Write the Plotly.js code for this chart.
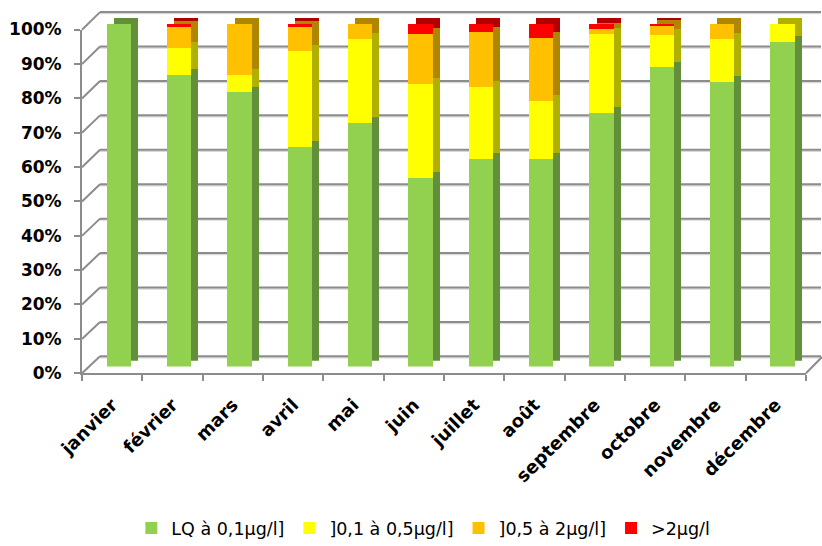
<!DOCTYPE html>
<html>
<head>
<meta charset="utf-8">
<script src="https://cdn.plot.ly/plotly-3.0.1.min.js"></script>
<style>
  html, body { margin: 0; padding: 0; background: #ffffff; }
  #chart { width: 822px; height: 546px; }
</style>
</head>
<body>
<div id="chart"></div>
<script>
// ---- data (percent of samples per class) ----
var months = ['janvier', 'février', 'mars', 'avril', 'mai', 'juin', 'juillet', 'août', 'septembre', 'octobre', 'novembre', 'décembre'];
var seriesNames = ['LQ à 0,1µg/l]', ']0,1 à 0,5µg/l]', ']0,5 à 2µg/l]', '>2µg/l'];
var lqTo01   = [100, 85, 80, 64, 71, 55, 60.5, 60.5, 74, 87.3, 83, 94.7];
var from01To05 = [0, 8, 5, 28, 24.5, 27.5, 21, 17, 23, 9.6, 12.5, 5.3];
var from05To2  = [0, 6, 15, 7, 4.5, 14.5, 16, 18.5, 1.5, 2.4, 4.5, 0];
var above2     = [0, 1, 0, 1, 0, 3, 2.5, 4, 1.5, 0.7, 0, 0];
var yTicks = [0, 10, 20, 30, 40, 50, 60, 70, 80, 90, 100];
var yTickText = yTicks.map(function (t) { return t + '%'; });

// ---- styles ----
var frontColors = ['#92D050', '#FFFF00', '#FFC000', '#FF0000'];
var sideColors  = ['#62903A', '#B0B000', '#B08600', '#B00000'];
var values = [lqTo01, from01To05, from05To2, above2];

var W = 822, H = 546;
function fx(px) { return px / W; }
function fy(py) { return 1 - py / H; }

var gridCol = '#8c8c8c';

var traces = [];
// carrier for the main (labelled) axes
traces.push({ type: 'scatter', x: [months[0]], y: [null], xaxis: 'x', yaxis: 'y',
  mode: 'markers', showlegend: false, hoverinfo: 'skip' });
// side/top faces (drawn behind, shifted up/right)
values.forEach(function (v, i) {
  traces.push({
    type: 'bar', x: months, y: v, name: seriesNames[i],
    xaxis: 'x', yaxis: 'y2', offset: 0.028, width: 0.4,
    marker: { color: sideColors[i], line: { width: 0 } },
    showlegend: false, hoverinfo: 'skip'
  });
});
// front faces
values.forEach(function (v, i) {
  traces.push({
    type: 'bar', x: months, y: v, name: seriesNames[i],
    xaxis: 'x', yaxis: 'y3', offset: -0.09, width: 0.4,
    marker: { color: frontColors[i], line: { width: 0 } }
  });
});

// back wall gridlines + side-wall connectors (3D frame)
var shapes = [];
yTicks.forEach(function (t) {
  var yFront = 379.5 - t * 3.492;
  var yBack = 362.3 - t * 3.5;
  shapes.push({ type: 'line', xref: 'paper', yref: 'paper', layer: 'below',
    x0: fx(100), y0: fy(yBack + 1.5), x1: fx(821), y1: fy(yBack + 1.5),
    line: { color: '#d9d9d9', width: 1.5 } });
  shapes.push({ type: 'line', xref: 'paper', yref: 'paper', layer: 'below',
    x0: fx(100), y0: fy(yBack), x1: fx(821), y1: fy(yBack),
    line: { color: gridCol, width: 2 } });
  shapes.push({ type: 'line', xref: 'paper', yref: 'paper', layer: 'below',
    x0: fx(82), y0: fy(yFront), x1: fx(100), y1: fy(yBack),
    line: { color: gridCol, width: 2 } });
});
shapes.push({ type: 'line', xref: 'paper', yref: 'paper', layer: 'below',
  x0: fx(806), y0: fy(379.5), x1: fx(822), y1: fy(363),
  line: { color: gridCol, width: 2 } });

var layout = {
  width: W, height: H,
  margin: { l: 0, r: 0, t: 0, b: 0 },
  paper_bgcolor: '#ffffff', plot_bgcolor: 'rgba(0,0,0,0)',
  barmode: 'stack',
  showlegend: true,
  font: { family: 'DejaVu Sans', color: '#000000' },
  xaxis: {
    domain: [fx(82), fx(806)], type: 'category', range: [-0.5, 11.5],
    tickson: 'boundaries', ticks: 'outside', ticklen: 6, tickwidth: 2, tickcolor: gridCol,
    showline: true, linecolor: gridCol, linewidth: 2, showgrid: false, zeroline: false,
    tickangle: -45, tickfont: { family: 'DejaVu Sans', size: 18, color: '#000000', weight: 'bold' },
    ticklabelstandoff: 12,
    anchor: 'y', automargin: false, fixedrange: true
  },
  yaxis: {
    domain: [fy(379.5), fy(30)], range: [0, 100], tickmode: 'array', tickvals: yTicks, ticktext: yTickText,
    ticks: 'outside', ticklen: 6, tickwidth: 2, tickcolor: gridCol,
    showline: true, linecolor: gridCol, linewidth: 2, showgrid: false, zeroline: false,
    tickfont: { family: 'DejaVu Sans', size: 17, color: '#000000', weight: 'bold' },
    ticklabelstandoff: 9,
    anchor: 'x', automargin: false, fixedrange: true
  },
  yaxis2: {
    domain: [fy(366.7), fy(18.3)], range: [0, 100], anchor: 'x', visible: false, fixedrange: true
  },
  yaxis3: {
    domain: [fy(372.7), fy(24.3)], range: [0, 100], anchor: 'x', visible: false, fixedrange: true
  },
  shapes: shapes,
  legend: {
    orientation: 'h', x: 0.515, xanchor: 'center', y: fy(537), yanchor: 'middle',
    font: { family: 'DejaVu Sans', size: 17.5, color: '#000000' },
    traceorder: 'normal', itemwidth: 30, bgcolor: 'rgba(0,0,0,0)'
  }
};

Plotly.newPlot('chart', traces, layout, { displayModeBar: false, staticPlot: true });
</script>
</body>
</html>
